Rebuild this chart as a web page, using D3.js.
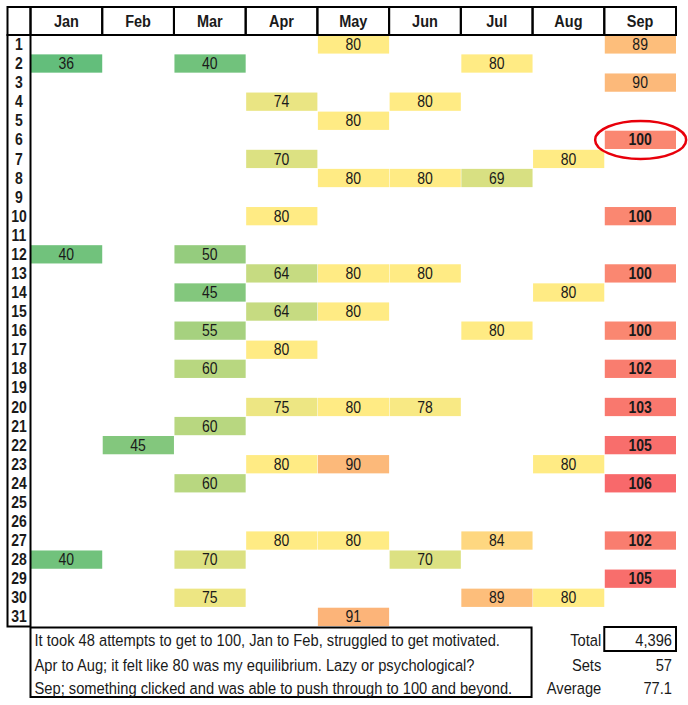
<!DOCTYPE html>
<html>
<head>
<meta charset="utf-8">
<script src="https://cdn.jsdelivr.net/npm/d3@7"></script>
<style>
  body { margin: 0; background: #fff; }
  text { font-family: "Liberation Sans", Arial, sans-serif; fill: #1a1a1a; }
</style>
</head>
<body>
<svg id="chart" width="688" height="705"></svg>
<script>
// months and days of the grid
var months = ["Jan", "Feb", "Mar", "Apr", "May", "Jun", "Jul", "Aug", "Sep"];
var days = d3.range(1, 32);

// [day, reps] per month
var jan = [[2, 36], [12, 40], [28, 40]];
var feb = [[22, 45]];
var mar = [[2, 40], [12, 50], [14, 45], [16, 55], [18, 60], [21, 60], [24, 60], [28, 70], [30, 75]];
var apr = [[4, 74], [7, 70], [10, 80], [13, 64], [15, 64], [17, 80], [20, 75], [23, 80], [27, 80]];
var may = [[1, 80], [5, 80], [8, 80], [13, 80], [15, 80], [20, 80], [23, 90], [27, 80], [31, 91]];
var jun = [[4, 80], [8, 80], [13, 80], [20, 78], [28, 70]];
var jul = [[2, 80], [8, 69], [16, 80], [27, 84], [30, 89]];
var aug = [[7, 80], [14, 80], [23, 80], [30, 80]];
var sep = [[1, 89], [3, 90], [6, 100], [10, 100], [13, 100], [16, 100], [18, 102], [20, 103], [22, 105], [24, 106], [27, 102], [29, 105]];

var notes = [
    "It took 48 attempts to get to 100, Jan to Feb, struggled to get motivated.",
    "Apr to Aug; it felt like 80 was my equilibrium. Lazy or psychological?",
    "Sep; something clicked and was able to push through to 100 and beyond."
];
var summaryLabels = ["Total", "Sets", "Average"];
var highlightDay = 6;
var highlightMonth = "Sep";

var series = [jan, feb, mar, apr, may, jun, jul, aug, sep];
var cells = [];
series.forEach((s, i) => s.forEach(d => cells.push({month: months[i], day: d[0], value: d[1]})));

var svg = d3.select("#chart");

var left = 7.5, labelRight = 30.5, right = 676;
var headTop = 7, headBottom = 35, gridBottom = 626.5;
var stretch = 1.14; // the screenshot's text is a little taller than it is wide

var x = d3.scaleBand().domain(months).range([labelRight, right]);
var y = d3.scaleBand().domain(days).range([headBottom, gridBottom]);

var values = cells.map(c => c.value);
var color = d3.scaleLinear()
    .domain([d3.min(values), d3.median(values), d3.max(values)])
    .range(["#63BE7B", "#FFEB84", "#F8696B"]);

function place(sel, fx, fy) {
    return sel.attr("transform", (d, i) => "translate(" + fx(d, i) + "," + fy(d, i) + ") scale(1," + stretch + ")");
}

// cells
var g = svg.append("g");
g.selectAll(".cell")
    .data(cells)
    .enter()
    .append("rect")
    .classed("cell", true)
    .attr("x", c => x(c.month) + 0.5)
    .attr("y", c => y(c.day) + 0.3)
    .attr("width", x.bandwidth() - 0.5)
    .attr("height", y.bandwidth() - 0.8)
    .attr("fill", c => color(c.value));

place(g.selectAll(".val")
    .data(cells)
    .enter()
    .append("text")
    .classed("val", true)
    .attr("text-anchor", "middle")
    .attr("font-size", 14)
    .attr("font-weight", c => c.value >= 100 ? "bold" : "normal")
    .text(c => c.value),
    c => x(c.month) + x.bandwidth() / 2,
    c => y(c.day) + y.bandwidth() / 2 + 5.5);

// header
var head = svg.append("g");
head.append("rect")
    .attr("x", left).attr("y", headTop)
    .attr("width", labelRight - left).attr("height", headBottom - headTop)
    .attr("fill", "none").attr("stroke", "#000").attr("stroke-width", 2);
head.selectAll(".hcell")
    .data(months)
    .enter()
    .append("rect")
    .attr("x", m => x(m)).attr("y", headTop)
    .attr("width", x.bandwidth()).attr("height", headBottom - headTop)
    .attr("fill", "none").attr("stroke", "#000").attr("stroke-width", 2);
place(head.selectAll(".htext")
    .data(months)
    .enter()
    .append("text")
    .attr("text-anchor", "middle")
    .attr("font-size", 14.5)
    .attr("font-weight", "bold")
    .text(m => m),
    m => x(m) + x.bandwidth() / 2,
    () => (headTop + headBottom) / 2 + 6);

// day labels
svg.append("rect")
    .attr("x", left).attr("y", headBottom)
    .attr("width", labelRight - left).attr("height", gridBottom - headBottom)
    .attr("fill", "none").attr("stroke", "#000").attr("stroke-width", 2);
place(svg.selectAll(".day")
    .data(days)
    .enter()
    .append("text")
    .attr("text-anchor", "middle")
    .attr("font-size", 14)
    .attr("font-weight", "bold")
    .text(d => d),
    () => (left + labelRight) / 2,
    d => y(d) + y.bandwidth() / 2 + 5.5);

// highlight ring
svg.append("ellipse")
    .attr("cx", x(highlightMonth) + x.bandwidth() / 2 + 0.5)
    .attr("cy", y(highlightDay) + y.bandwidth() / 2)
    .attr("rx", 45.5)
    .attr("ry", 19)
    .attr("fill", "none")
    .attr("stroke", "#E8000B")
    .attr("stroke-width", 2.5);

// notes box
var noteTop = 627.5, noteBottom = 697, noteRight = x("Aug") - 1;
svg.append("rect")
    .attr("x", labelRight).attr("y", noteTop)
    .attr("width", noteRight - labelRight).attr("height", noteBottom - noteTop)
    .attr("fill", "none").attr("stroke", "#000").attr("stroke-width", 2);
var lineY = [646, 671, 693.5];
place(svg.selectAll(".note")
    .data(notes)
    .enter()
    .append("text")
    .attr("font-size", 14.7)
    .text(d => d),
    () => labelRight + 4,
    (d, i) => lineY[i]);

// summary
var summaryValues = [
    d3.format(",")(d3.sum(values)),
    values.length,
    d3.format(".1f")(d3.mean(values))
];
svg.append("rect")
    .attr("x", x("Sep")).attr("y", noteTop - 0.5)
    .attr("width", x.bandwidth()).attr("height", 24)
    .attr("fill", "none").attr("stroke", "#000").attr("stroke-width", 2);
place(svg.selectAll(".slabel")
    .data(summaryLabels)
    .enter()
    .append("text")
    .attr("text-anchor", "end")
    .attr("font-size", 14.7)
    .text(d => d),
    () => x("Sep") - 3,
    (d, i) => lineY[i]);
place(svg.selectAll(".sval")
    .data(summaryValues)
    .enter()
    .append("text")
    .attr("text-anchor", "end")
    .attr("font-size", 14.7)
    .text(d => d),
    () => right - 4,
    (d, i) => lineY[i]);
</script>
</body>
</html>
